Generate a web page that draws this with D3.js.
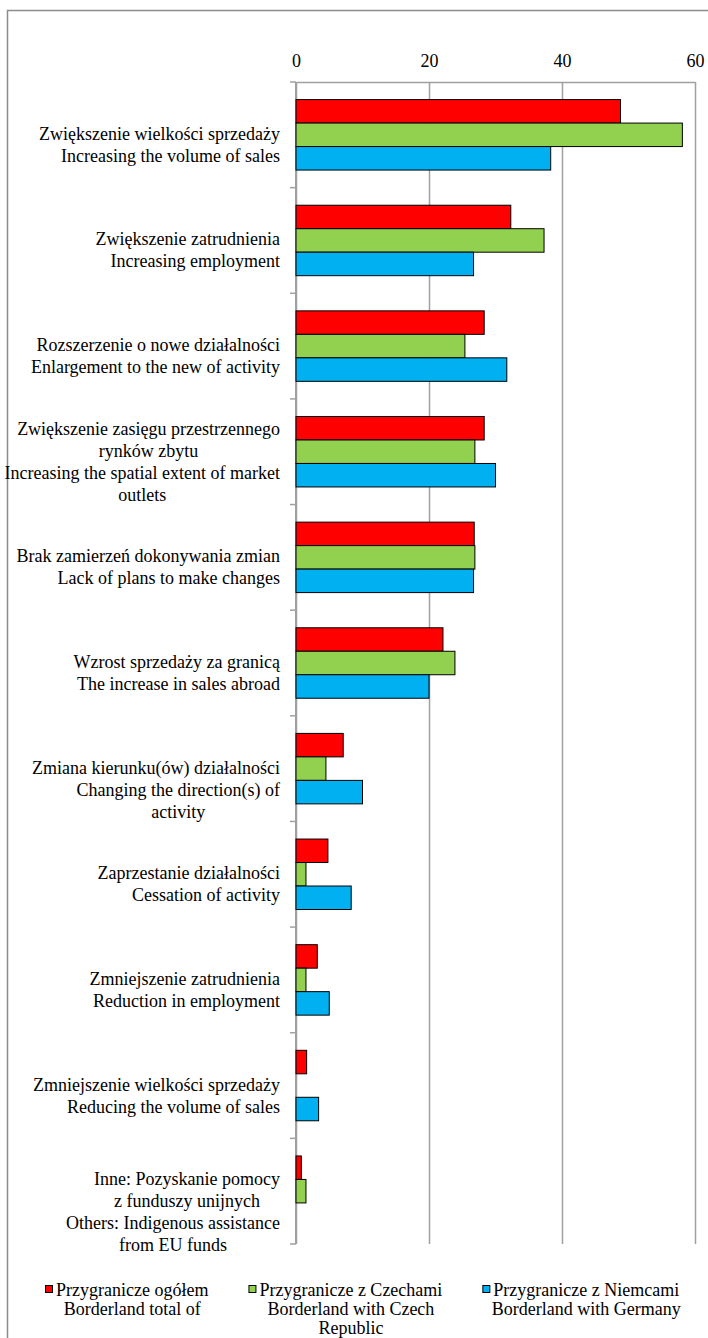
<!DOCTYPE html>
<html>
<head>
<meta charset="utf-8">
<script src="https://cdn.jsdelivr.net/npm/d3@7"></script>
<style>
  body { margin: 0; background: #fff; }
  svg text { font-family: "Liberation Serif", "Times New Roman", serif; fill: #000; }
</style>
</head>
<body>
<div id="chart"></div>
<script>
// categories: each label = paragraphs (Polish, English), each paragraph = wrapped lines
var categories = [
	[["Zwiększenie wielkości sprzedaży"], ["Increasing the volume of sales"]],
	[["Zwiększenie zatrudnienia"], ["Increasing employment"]],
	[["Rozszerzenie o nowe działalności"], ["Enlargement to the new of activity"]],
	[["Zwiększenie zasięgu przestrzennego", "rynków zbytu"], ["Increasing the spatial extent of market", "outlets"]],
	[["Brak zamierzeń dokonywania zmian"], ["Lack of plans to make changes"]],
	[["Wzrost sprzedaży za granicą"], ["The increase in sales abroad"]],
	[[""], ["Zmiana kierunku(ów) działalności"], ["Changing the direction(s) of", "activity"]],
	[["Zaprzestanie działalności"], ["Cessation of activity"]],
	[["Zmniejszenie zatrudnienia"], ["Reduction in employment"]],
	[["Zmniejszenie wielkości sprzedaży"], ["Reducing the volume of sales"]],
	[[""], ["Inne: Pozyskanie pomocy", "z funduszy unijnych"], ["Others: Indigenous assistance", "from EU funds"]]
];

var total   = [48.8, 32.3, 28.3, 28.3, 26.8, 22.1, 7.1, 4.8, 3.2, 1.6, 0.8];
var czech   = [58.1, 37.3, 25.4, 26.9, 26.9, 23.9, 4.5, 1.5, 1.5, 0, 1.5];
var germany = [38.3, 26.7, 31.7, 30.0, 26.7, 20.0, 10.0, 8.3, 5.0, 3.4, 0];

var seriesNames = [
	["Przygranicze ogółem", "Borderland total of"],
	["Przygranicze z Czechami", "Borderland with Czech", "Republic"],
	["Przygranicze z Niemcami", "Borderland with Germany"]
];

var xTicks = [0, 20, 40, 60];

// magic numbers
var W = 708, H = 1338,
	plot = {left: 296, right: 695, top: 82, bottom: 1244},
	colors = ["#ff0000", "#92d050", "#00b0f0"],
	gridColor = "#a0a0a0";

var svg = d3.select("#chart").append("svg")
		.attr("width", W)
		.attr("height", H);

// outer frame
svg.append("rect")
	.attr("x", 7.5).attr("y", 10.5)
	.attr("width", 760).attr("height", 1400)
	.attr("fill", "none")
	.attr("stroke", "#8c8c8c")
	.attr("stroke-width", 1.5);

var x = d3.scaleLinear()
		.domain([0, 60])
		.range([plot.left, plot.right]);

var y = d3.scaleBand()
		.domain(d3.range(categories.length))
		.range([plot.top, plot.bottom])
		.paddingInner(0.333)
		.paddingOuter(0.1665);

var ySub = d3.scaleBand()
		.domain([0, 1, 2])
		.range([0, y.bandwidth()]);

// top axis with gridlines
var xAxis = svg.append("g")
		.attr("transform", "translate(0," + plot.top + ")")
		.call(d3.axisTop(x)
			.tickValues(xTicks)
			.tickSizeInner(-(plot.bottom - plot.top))
			.tickSizeOuter(0)
			.tickPadding(15));

xAxis.select(".domain").attr("stroke", gridColor).attr("stroke-width", 1.5);
xAxis.selectAll(".tick line").attr("stroke", gridColor).attr("stroke-width", 1.5);
xAxis.selectAll(".tick text")
	.style("font-size", "18px")
	.attr("fill", "#000");

// left axis line + category ticks
svg.append("line")
	.attr("x1", x(0)).attr("x2", x(0))
	.attr("y1", plot.top).attr("y2", plot.bottom)
	.attr("stroke", gridColor).attr("stroke-width", 2);

var step = y.step();
svg.selectAll(".cat-tick")
	.data(d3.range(categories.length + 1))
	.enter().append("line")
		.attr("class", "cat-tick")
		.attr("x1", x(0) - 6).attr("x2", x(0))
		.attr("y1", function(d){ return plot.top + d * step; })
		.attr("y2", function(d){ return plot.top + d * step; })
		.attr("stroke", gridColor).attr("stroke-width", 1.5);

// bars
var series = [total, czech, germany];
series.forEach(function(vals, s){
	svg.selectAll(".bar-" + s)
		.data(vals)
		.enter().append("rect")
			.attr("class", "bar-" + s)
			.attr("x", x(0))
			.attr("y", function(d, i){ return y(i) + ySub(s); })
			.attr("width", function(d){ return x(d) - x(0); })
			.attr("height", ySub.bandwidth())
			.attr("fill", colors[s])
			.attr("stroke", function(d){ return d > 0 ? "#000" : "none"; })
			.attr("stroke-width", 1);
});

// category labels
var lineH = 22, labelRight = 280;
categories.forEach(function(paras, i){
	var lines = [];
	paras.forEach(function(p){
		p.forEach(function(t, j){ lines.push({text: t, cont: j > 0}); });
	});
	var center = y(i) + y.bandwidth() / 2 + 10;
	var g = svg.append("g").attr("class", "cat-label");
	var lastCenter = labelRight;
	lines.forEach(function(l, k){
		var yy = center + (k - (lines.length - 1) / 2) * lineH + 6;
		var t = g.append("text")
			.attr("y", yy)
			.style("font-size", "18px")
			.text(l.text);
		if (!l.cont){
			t.attr("x", labelRight).attr("text-anchor", "end");
			lastCenter = labelRight - t.node().getComputedTextLength() / 2;
		} else {
			t.attr("x", lastCenter).attr("text-anchor", "middle");
		}
	});
});

// legend
var legendX = 45, legendY = 1296, legendGap = 40, legendLine = 19;
seriesNames.forEach(function(names, s){
	var g = svg.append("g").attr("transform", "translate(" + legendX + "," + legendY + ")");
	g.append("rect")
		.attr("x", 0.5).attr("y", -10.5)
		.attr("width", 7).attr("height", 7)
		.attr("fill", colors[s])
		.attr("stroke", "#000").attr("stroke-width", 1);
	var first = g.append("text")
		.attr("x", 11).attr("y", 0)
		.style("font-size", "18px")
		.text(names[0]);
	var w = first.node().getComputedTextLength();
	names.slice(1).forEach(function(n, k){
		g.append("text")
			.attr("x", 11 + w / 2)
			.attr("y", (k + 1) * legendLine)
			.attr("text-anchor", "middle")
			.style("font-size", "18px")
			.text(n);
	});
	legendX += 11 + w + legendGap;
});
</script>
</body>
</html>
